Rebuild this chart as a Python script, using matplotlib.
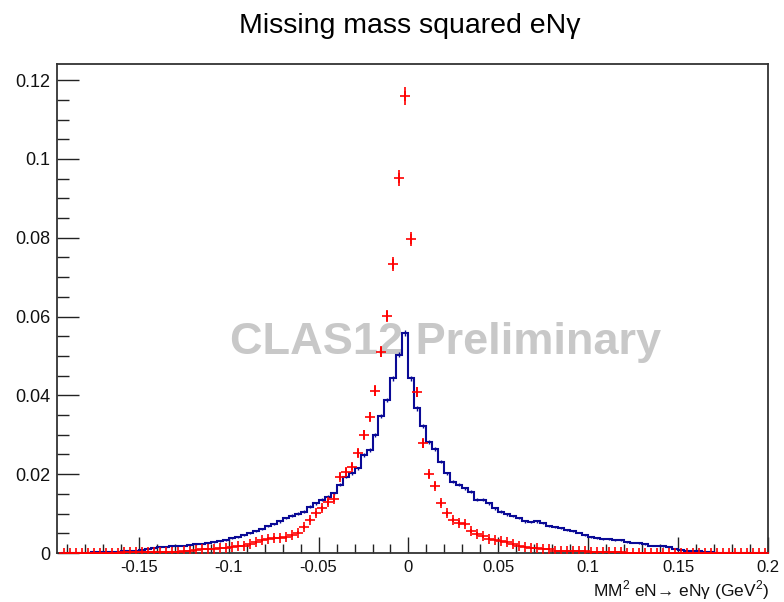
import numpy as np
import matplotlib
matplotlib.use('Agg')
import matplotlib.pyplot as plt
from matplotlib.ticker import MultipleLocator, FuncFormatter

plt.rcParams['font.family'] = ['Liberation Sans', 'DejaVu Sans']
plt.rcParams['axes.unicode_minus'] = False
plt.rcParams['mathtext.fontset'] = 'custom'
plt.rcParams['mathtext.rm'] = 'Liberation Sans'

# MM^2 histograms, 1/300 GeV^2 bins from -0.19333 to 0.2
bin_width = 0.2 / 60
n_left = 58
n_right = 60

# blue: bins below zero (k = -58 .. -1) and above (k = 0 .. 59)
blue_neg = [0, 0, 0.0001, 0.0001, 0.0001, 0.0002, 0.0002, 0.0002, 0.0002, 0.0003,
            0.0004, 0.0005, 0.0006, 0.0008, 0.0010, 0.0012, 0.0014, 0.0015, 0.0017, 0.0018,
            0.0019, 0.0020, 0.0022, 0.0024, 0.0025, 0.0027, 0.0030, 0.0033, 0.0037, 0.0040,
            0.0045, 0.0050, 0.0056, 0.0062, 0.0068, 0.0073, 0.0080, 0.0088, 0.0095, 0.0100,
            0.0105, 0.0118, 0.0126, 0.0135, 0.0143, 0.0152, 0.0173, 0.0194, 0.0202, 0.0215,
            0.0249, 0.0261, 0.0300, 0.0348, 0.0388, 0.0443, 0.0503, 0.0558]
blue_pos = [0.0443, 0.0367, 0.0322, 0.0282, 0.0263, 0.0232, 0.0202, 0.0181, 0.0173, 0.0164,
            0.0156, 0.0135, 0.0135, 0.0126, 0.0113, 0.0105, 0.0098, 0.0093, 0.0088, 0.0080,
            0.0079, 0.0080, 0.0077, 0.0068, 0.0066, 0.0064, 0.0058, 0.0055, 0.0052, 0.0045,
            0.0041, 0.0038, 0.0035, 0.0035, 0.0033, 0.0033, 0.0028, 0.0026, 0.0025, 0.0022,
            0.0019, 0.0018, 0.0017, 0.0015, 0.0010, 0.0008, 0.0006, 0.0005, 0.0004, 0.0003,
            0.0002, 0.0001, 0.0001, 0.0001, 0.0001, 0.0001, 0.0001, 0.0001, 0.0001, 0.0001]

# red points, same binning
red_neg = [0.0001] * 10 + [0.0003] * 10 + [
           0.0005, 0.0006, 0.0008, 0.0009, 0.0010, 0.0011, 0.0012, 0.0013, 0.0015, 0.0017,
           0.0019, 0.0022, 0.0027, 0.0032, 0.0036, 0.0038, 0.0039, 0.0040, 0.0045, 0.0052,
           0.0066, 0.0084, 0.0101, 0.0113, 0.0130, 0.0136, 0.0194, 0.0206, 0.0219, 0.0253,
           0.0300, 0.0346, 0.0412, 0.0511, 0.0601, 0.0733, 0.0951, 0.1160]
red_pos = [0.0797, 0.0409, 0.0278, 0.0200, 0.0171, 0.0126, 0.0101, 0.0084, 0.0077, 0.0074,
           0.0056, 0.0048, 0.0042, 0.0036, 0.0033, 0.0030, 0.0027, 0.0022, 0.0018, 0.0015,
           0.0013, 0.0012, 0.0010, 0.0009] + [0.0006] * 6 + [0.0002] * 6 + [0.0001] * 24

# statistical error scale (err = scale * sqrt(content))
blue_err_scale = 0.003
red_err_scale = 0.0065

blue = np.array(blue_neg + blue_pos)
red = np.array(red_neg + red_pos)
edges = bin_width * np.arange(-n_left, n_right + 1)
centers = 0.5 * (edges[:-1] + edges[1:])

navy = '#0a0a96'

fig = plt.figure(figsize=(7.84, 6.02), dpi=100)
ax = fig.add_axes([57 / 784, 1 - 553 / 602, (768 - 57) / 784, (553 - 64) / 602])

ax.text(0.547, 0.43, 'CLAS12 Preliminary', transform=ax.transAxes,
        ha='center', va='center', fontsize=32.5, fontweight='bold',
        color='#c8c8c8', zorder=1)

ax.stairs(blue, edges, color=navy, linewidth=1.5, zorder=3)
ax.errorbar(centers, blue, yerr=blue_err_scale * np.sqrt(blue), fmt='none',
            ecolor=navy, elinewidth=1.0, zorder=3)
ax.errorbar(centers, red, yerr=red_err_scale * np.sqrt(red), fmt='+',
            color='red', ecolor='red', markersize=6.5, markeredgewidth=1.2,
            elinewidth=1.2, zorder=4)

ax.set_xlim(-0.1955, 0.2)
ax.set_ylim(0, 0.1241)

fmt = FuncFormatter(lambda v, p: '%g' % round(v, 4))
ax.xaxis.set_major_locator(MultipleLocator(0.05))
ax.xaxis.set_minor_locator(MultipleLocator(0.01))
ax.yaxis.set_major_locator(MultipleLocator(0.02))
ax.yaxis.set_minor_locator(MultipleLocator(0.005))
ax.xaxis.set_major_formatter(fmt)
ax.yaxis.set_major_formatter(fmt)

ax.tick_params(axis='both', which='both', direction='in', width=1.0,
               colors='#222222', labelcolor='#111111')
ax.tick_params(axis='x', which='major', length=11.5, pad=5, labelsize=12)
ax.tick_params(axis='x', which='minor', length=6.5)
ax.tick_params(axis='y', which='major', length=16, pad=5, labelsize=13)
ax.tick_params(axis='y', which='minor', length=8.6)
for s in ax.spines.values():
    s.set_linewidth(1.3)
    s.set_color('#333333')

fig.text(410 / 784, 1 - 26 / 602, 'Missing mass squared eN\u03b3',
         ha='center', va='center', fontsize=20.5, color='black')
fig.text(769 / 784, 1 - 590 / 602, 'MM$^2$ eN\u2192 eN\u03b3 (GeV$^2$)',
         ha='right', va='center', fontsize=12.5, color='#111111')

fig.savefig('out.png', dpi=100)
